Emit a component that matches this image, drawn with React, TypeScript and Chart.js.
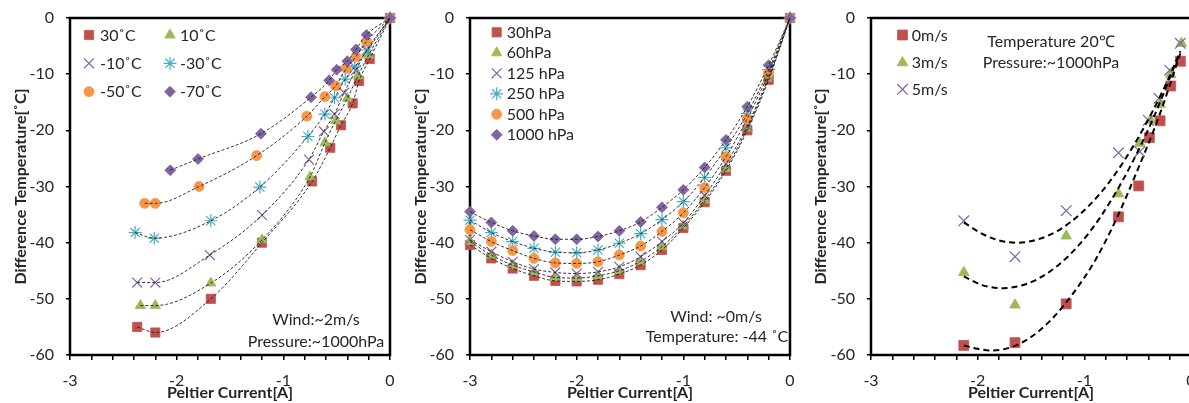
import React, { useEffect, useRef } from 'react';
import { Chart, registerables } from 'chart.js';
import { drawPoint } from 'chart.js/helpers';

Chart.register(...registerables);

// ---------------- data ----------------
// Panel 1 – ambient temperature series
const p1Labels = ['30˚C', '10˚C', '-10˚C', '-30˚C', '-50˚C', '-70˚C'];
const p1_30C_x = [0, -0.19, -0.29, -0.35, -0.46, -0.56, -0.73, -1.2, -1.68, -2.2, -2.37];
const p1_30C_y = [0, -7.3, -11.2, -15.2, -19.1, -23.1, -29.1, -40, -50, -56, -55];
const p1_10C_x = [0, -0.2, -0.3, -0.4, -0.51, -0.61, -0.75, -1.2, -1.68, -2.2, -2.34];
const p1_10C_y = [0, -6.6, -10.3, -14.3, -18.3, -22.2, -28.3, -39.5, -47.2, -51.2, -51.2];
const p1_m10C_x = [0, -0.22, -0.32, -0.43, -0.52, -0.62, -0.76, -1.2, -1.69, -2.2, -2.37];
const p1_m10C_y = [0, -5.8, -9.3, -13.3, -17.1, -20.2, -25.2, -35.1, -42.2, -47.1, -47.1];
const p1_m30C_x = [0, -0.21, -0.33, -0.42, -0.52, -0.61, -0.77, -1.22, -1.68, -2.21, -2.39];
const p1_m30C_y = [0, -5.7, -8.7, -10.9, -14.2, -17.1, -21.1, -30.1, -36.1, -39.2, -38.2];
const p1_m50C_x = [0, -0.22, -0.32, -0.41, -0.51, -0.61, -0.78, -1.25, -1.79, -2.2, -2.3];
const p1_m50C_y = [0, -4.2, -6.9, -9.0, -12.1, -14.0, -17.5, -24.5, -30.0, -33.0, -33.0];
const p1_m70C_x = [0, -0.22, -0.32, -0.4, -0.5, -0.57, -0.74, -1.21, -1.8, -2.06];
const p1_m70C_y = [0, -3.0, -5.6, -7.7, -9.2, -11.1, -14.1, -20.6, -25.1, -27.1];

// Panel 2 – pressure series
const p2Labels = ['30hPa', '60hPa', '125 hPa', '250 hPa', '500 hPa', '1000 hPa'];
const p2_x = [0, -0.2, -0.4, -0.6, -0.8, -1.0, -1.2, -1.4, -1.6, -1.8, -2.0, -2.2, -2.4, -2.6, -2.8, -3.0];
const p2_30_y = [0, -11.0, -20.0, -27.2, -32.8, -37.4, -41.3, -44.0, -45.6, -46.6, -46.9, -46.8, -45.9, -44.6, -42.8, -40.4];
const p2_60_y = [0, -10.7, -19.6, -26.8, -32.4, -37.0, -40.7, -43.3, -45.0, -45.9, -46.3, -46.2, -45.2, -44.0, -42.2, -39.8];
const p2_125_y = [0, -10.4, -19.2, -26.0, -31.6, -36.5, -39.8, -42.5, -44.3, -45.2, -45.5, -45.3, -44.7, -43.4, -41.6, -39.5];
const p2_250_y = [0, -9.2, -17.0, -23.1, -28.4, -32.7, -35.9, -38.4, -40.1, -41.3, -41.8, -41.7, -41.0, -39.8, -38.2, -36.0];
const p2_500_y = [0, -9.8, -17.9, -24.7, -30.2, -34.7, -38.0, -40.6, -42.2, -43.4, -43.7, -43.6, -42.8, -41.4, -39.8, -37.7];
const p2_1000_y = [0, -8.4, -15.8, -21.7, -26.6, -30.6, -33.7, -36.3, -37.9, -38.9, -39.4, -39.4, -38.8, -37.9, -36.4, -34.5];

// Panel 3 – wind series
const p3Labels = ['0m/s', '3m/s', '5m/s'];
const p3_0_x = [-0.1, -0.19, -0.29, -0.39, -0.49, -0.68, -1.17, -1.65, -2.13];
const p3_0_y = [-7.7, -12.1, -18.3, -21.3, -29.9, -35.4, -50.9, -57.8, -58.3];
const p3_3_x = [-0.09, -0.19, -0.29, -0.38, -0.48, -0.68, -1.17, -1.65, -2.13];
const p3_3_y = [-4.5, -10.1, -15.4, -18.2, -22.3, -31.3, -38.8, -51.1, -45.3];
const p3_5_x = [-0.1, -0.2, -0.3, -0.4, -0.48, -0.68, -1.17, -1.65, -2.13];
const p3_5_y = [-4.5, -9.3, -14.3, -18.2, -23.8, -24.0, -34.3, -42.5, -36.1];
// Panel 3 – trend curves
const p3_trend0_x = [-2.13, -2.0, -1.88, -1.7, -1.5, -1.3, -1.1, -0.9, -0.7, -0.5, -0.3, -0.1];
const p3_trend0_y = [-58.3, -58.9, -59.2, -58.7, -56.8, -53.5, -48.9, -43.2, -35.8, -27.0, -17.5, -6.3];
const p3_trend3_x = [-2.13, -1.95, -1.76, -1.55, -1.35, -1.15, -0.95, -0.75, -0.55, -0.35, -0.1];
const p3_trend3_y = [-46.0, -47.6, -48.1, -47.4, -45.5, -42.4, -38.1, -32.5, -25.7, -17.7, -5.9];
const p3_trend5_x = [-2.13, -1.95, -1.8, -1.63, -1.45, -1.25, -1.05, -0.85, -0.65, -0.45, -0.25, -0.1];
const p3_trend5_y = [-36.4, -38.5, -39.6, -40.0, -39.5, -37.9, -35.1, -31.2, -26.1, -19.8, -12.4, -6.1];

const xTitle = 'Peltier Current[A]';
const yTitle = 'Difference Temperature[˚C]';

// ---------------- styles ----------------
const FONT = 'Lato, "Open Sans", sans-serif';
const TXT = '#262626';
const RED = '#C0504D';
const GREEN = '#9BBB59';
const PURPLE = '#8064A2';
const CYAN = '#4BACC6';
const ORANGE = '#F79646';

type Mk = { style: string; r: number; color: string };
type Series = { label: string; xs: number[]; ys: number[]; mk: Mk };
type Spec = {
  left: number;
  yWidth: number;
  rightPad: number;
  series: Series[];
  trends: { xs: number[]; ys: number[] }[];
  line: { color: string; width: number; dash: number[] };
  legend: { idx: number; mx: number; tx: number; y: number }[];
  notes: { text: string; x: number; y: number }[];
};

const pts = (xs: number[], ys: number[]) =>
  xs.map((x, i) => ({ x, y: ys[i] })).sort((a, b) => a.x - b.x);

const p1Mk: Mk[] = [
  { style: 'rect', r: 6.5, color: RED },
  { style: 'triangle', r: 6, color: GREEN },
  { style: 'crossRot', r: 7, color: PURPLE },
  { style: 'star', r: 6.5, color: CYAN },
  { style: 'circle', r: 5, color: ORANGE },
  { style: 'rectRot', r: 5.5, color: PURPLE },
];

const p1Series: Series[] = [
  [p1_30C_x, p1_30C_y],
  [p1_10C_x, p1_10C_y],
  [p1_m10C_x, p1_m10C_y],
  [p1_m30C_x, p1_m30C_y],
  [p1_m50C_x, p1_m50C_y],
  [p1_m70C_x, p1_m70C_y],
].map((d, i) => ({ label: p1Labels[i], xs: d[0], ys: d[1], mk: p1Mk[i] }));

const p2Series: Series[] = [p2_30_y, p2_60_y, p2_125_y, p2_250_y, p2_500_y, p2_1000_y].map((ys, i) => ({
  label: p2Labels[i],
  xs: p2_x,
  ys,
  mk: p1Mk[i],
}));

const p3Mk: Mk[] = [
  { style: 'rect', r: 7, color: RED },
  { style: 'triangle', r: 6.2, color: GREEN },
  { style: 'crossRot', r: 7.5, color: PURPLE },
];
const p3Series: Series[] = [
  [p3_0_x, p3_0_y],
  [p3_3_x, p3_3_y],
  [p3_5_x, p3_5_y],
].map((d, i) => ({ label: p3Labels[i], xs: d[0], ys: d[1], mk: p3Mk[i] }));

const thinLine = { color: 'rgba(30,30,30,0.9)', width: 1, dash: [3, 2] };

const specs: Spec[] = [
  {
    left: 0,
    yWidth: 70,
    rightPad: 10,
    series: p1Series,
    trends: p1Series.map((s) => ({ xs: s.xs, ys: s.ys })),
    line: thinLine,
    legend: [
      { idx: 0, mx: 89, tx: 100, y: 35 },
      { idx: 1, mx: 170, tx: 180, y: 35 },
      { idx: 2, mx: 89, tx: 100, y: 63.3 },
      { idx: 3, mx: 170, tx: 180, y: 63.3 },
      { idx: 4, mx: 89, tx: 100, y: 91.7 },
      { idx: 5, mx: 170, tx: 180, y: 91.7 },
    ],
    notes: [
      { text: 'Wind:~2m/s', x: 316, y: 319.5 },
      { text: 'Pressure:~1000hPa', x: 316, y: 341.5 },
    ],
  },
  {
    left: 400,
    yWidth: 70,
    rightPad: 10,
    series: p2Series,
    trends: p2Series.map((s) => ({ xs: s.xs, ys: s.ys })),
    line: thinLine,
    legend: [0, 1, 2, 3, 4, 5].map((i) => ({ idx: i, mx: 96.7, tx: 106.7, y: 32.3 + 20.5 * i })),
    notes: [
      { text: 'Wind: ~0m/s', x: 316, y: 317 },
      { text: 'Temperature: -44 ˚C', x: 317, y: 337 },
    ],
  },
  {
    left: 800,
    yWidth: 71,
    rightPad: 9,
    series: p3Series,
    trends: [
      { xs: p3_trend0_x, ys: p3_trend0_y },
      { xs: p3_trend3_x, ys: p3_trend3_y },
      { xs: p3_trend5_x, ys: p3_trend5_y },
    ],
    line: { color: '#000', width: 2, dash: [6, 4] },
    legend: [
      { idx: 0, mx: 102.5, tx: 111.7, y: 35 },
      { idx: 1, mx: 102.5, tx: 111.7, y: 62.7 },
      { idx: 2, mx: 102.5, tx: 111.7, y: 89.3 },
    ],
    notes: [
      { text: 'Temperature 20℃', x: 251, y: 41.7 },
      { text: 'Pressure:~1000hPa', x: 251, y: 62.7 },
    ],
  },
];

function zeroPad(s: any) {
  s.paddingLeft = 0;
  s.paddingRight = 0;
  s.paddingTop = 0;
  s.paddingBottom = 0;
}

function buildConfig(spec: Spec): any {
  const datasets: any[] = [];
  spec.trends.forEach((t) => {
    datasets.push({
      data: pts(t.xs, t.ys),
      showLine: true,
      pointRadius: 0,
      pointHoverRadius: 0,
      borderColor: spec.line.color,
      borderWidth: spec.line.width,
      borderDash: spec.line.dash,
      fill: false,
      cubicInterpolationMode: 'monotone',
      order: 0,
    });
  });
  spec.series.forEach((s, i) => {
    datasets.push({
      label: s.label,
      data: pts(s.xs, s.ys),
      showLine: false,
      pointStyle: s.mk.style,
      pointRadius: s.mk.r,
      pointHoverRadius: s.mk.r,
      pointBackgroundColor: s.mk.color,
      pointBorderColor: s.mk.color,
      pointBorderWidth: s.mk.style === 'crossRot' || s.mk.style === 'star' ? 1.2 : 0.8,
      backgroundColor: s.mk.color,
      borderColor: s.mk.color,
      clip: false,
      order: 100 - i,
    });
  });

  const decor = {
    id: 'decor',
    beforeDatasetsDraw(chart: any) {
      const { ctx, chartArea: a } = chart;
      ctx.save();
      ctx.strokeStyle = '#000';
      ctx.lineWidth = 2.5;
      ctx.strokeRect(a.left, a.top, a.right - a.left, a.bottom - a.top);
      ctx.restore();
    },
    afterDraw(chart: any) {
      const ctx = chart.ctx as CanvasRenderingContext2D;
      ctx.save();
      spec.legend.forEach((e) => {
        const s = spec.series[e.idx];
        ctx.fillStyle = s.mk.color;
        ctx.strokeStyle = s.mk.color;
        const bw = s.mk.style === 'crossRot' || s.mk.style === 'star' ? 1.2 : 0.8;
        ctx.lineWidth = bw;
        drawPoint(ctx, { pointStyle: s.mk.style as any, radius: s.mk.r, rotation: 0, borderWidth: bw } as any, e.mx, e.y);
        ctx.fillStyle = TXT;
        ctx.font = `16px ${FONT}`;
        ctx.textAlign = 'left';
        ctx.textBaseline = 'middle';
        ctx.fillText(s.label, e.tx, e.y + 0.5);
      });
      ctx.fillStyle = TXT;
      ctx.font = `16px ${FONT}`;
      ctx.textAlign = 'center';
      ctx.textBaseline = 'middle';
      spec.notes.forEach((n) => ctx.fillText(n.text, n.x, n.y));
      ctx.restore();
    },
  };

  return {
    type: 'scatter',
    data: { datasets },
    plugins: [decor],
    options: {
      responsive: false,
      animation: false,
      devicePixelRatio: 1,
      events: [],
      layout: { padding: { left: 0, top: 18, right: spec.rightPad, bottom: 0 } },
      plugins: { legend: { display: false }, tooltip: { enabled: false } },
      scales: {
        x: {
          type: 'linear',
          position: 'bottom',
          min: -3,
          max: 0,
          afterFit: (s: any) => {
            s.height = 48;
            zeroPad(s);
          },
          ticks: {
            stepSize: 0.2,
            maxTicksLimit: 40,
            autoSkip: false,
            maxRotation: 0,
            minRotation: 0,
            padding: 11,
            color: TXT,
            font: { family: FONT, size: 16 },
            callback: (v: number) => {
              const r = Math.round(v * 10) / 10;
              return Number.isInteger(r) ? String(r === 0 ? 0 : r) : '';
            },
          },
          grid: { drawOnChartArea: false, drawTicks: true, tickLength: 5, color: '#000', lineWidth: 1.5 },
          border: { display: false },
          title: {
            display: true,
            text: xTitle,
            color: TXT,
            font: { family: FONT, size: 16, weight: 'bold' },
            padding: { top: 0, bottom: 1 },
          },
        },
        y: {
          type: 'linear',
          min: -60,
          max: 0,
          afterFit: (s: any) => {
            s.width = spec.yWidth;
            zeroPad(s);
          },
          ticks: {
            stepSize: 10,
            padding: 12,
            color: TXT,
            font: { family: FONT, size: 16 },
          },
          grid: { drawOnChartArea: false, drawTicks: true, tickLength: 4, color: '#000', lineWidth: 1.5 },
          border: { display: false },
          title: {
            display: true,
            text: yTitle,
            color: TXT,
            font: { family: FONT, size: 16, weight: 'bold' },
            padding: { top: 11, bottom: 0 },
          },
        },
      },
    },
  };
}

function Panel({ spec }: { spec: Spec }) {
  const ref = useRef<HTMLCanvasElement>(null);
  useEffect(() => {
    const chart = new Chart(ref.current as HTMLCanvasElement, buildConfig(spec));
    return () => chart.destroy();
  }, [spec]);
  return (
    <div style={{ position: 'absolute', left: spec.left, top: 0, width: 400, height: 403 }}>
      <canvas ref={ref} width={400} height={403} style={{ width: 400, height: 403, display: 'block' }} />
    </div>
  );
}

export default function App() {
  return (
    <div
      style={{
        position: 'absolute',
        left: 0,
        top: 0,
        width: 1189,
        height: 403,
        overflow: 'hidden',
        background: '#fff',
      }}
    >
      {specs.map((s, i) => (
        <Panel key={i} spec={s} />
      ))}
    </div>
  );
}
